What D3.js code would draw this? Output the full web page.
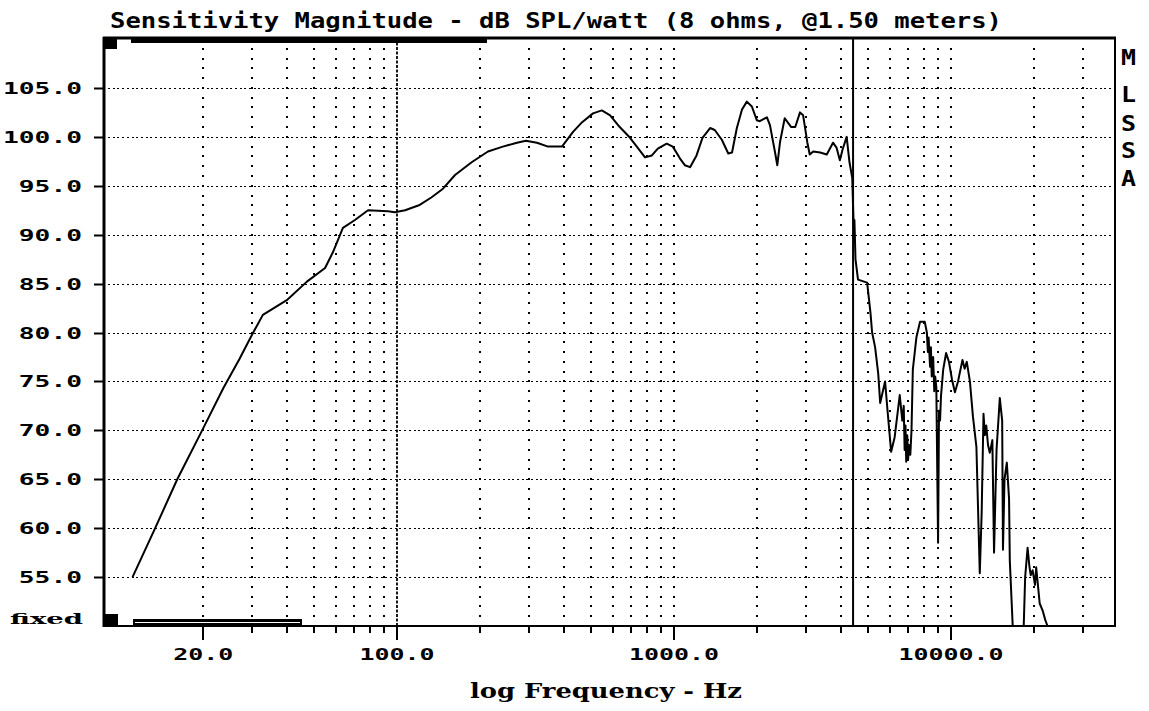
<!DOCTYPE html>
<html>
<head>
<meta charset="utf-8">
<script src="https://cdn.jsdelivr.net/npm/d3@7"></script>
<style>
  html, body { margin: 0; padding: 0; background: #fff; }
  svg { display: block; }
  .mono { font-family: "DejaVu Sans Mono", "Liberation Mono", monospace; font-weight: bold; fill: #000; }
  .serif { font-family: "DejaVu Serif", "Liberation Serif", serif; font-weight: bold; fill: #000; }
</style>
</head>
<body>
<script>
// ---------------- data ----------------
const freqHz = [11.1, 13.4, 16.1, 19.8, 23.6, 27.0, 30.0, 32.8, 40, 47.3, 55, 58.7, 63.8, 70.5, 78.6, 92.8, 98.3,
  107, 120, 133, 146.6, 162, 186, 213, 241, 271, 292, 320, 351, 394, 432, 466, 510, 549, 588, 637, 694, 734,
  786, 832, 874, 941, 990, 1050, 1094, 1143, 1206, 1267, 1350, 1403, 1488, 1570, 1620, 1686, 1760, 1832,
  1910, 1990, 2040, 2165, 2220, 2313, 2360, 2415, 2510, 2570, 2650, 2740, 2850, 2925, 3030, 3090, 3180,
  3370, 3560, 3750, 3860, 3970, 4060, 4200, 4300, 4400, 4440, 4460, 4480, 4520, 4616, 4980, 5120, 5190,
  5320, 5460, 5550, 5780, 5900, 6080, 6260, 6530, 6670, 6750, 6800, 6850, 6890, 6950, 7000, 7050, 7130, 7200, 7280, 7500,
  7730, 8040, 8180, 8250, 8300, 8400, 8460, 8520, 8620, 8700, 8770, 8850, 8980, 9050, 9130, 9200, 9370, 9600, 9830, 10080, 10330, 10600,
  11000, 11200, 11400, 11700, 12000, 12350, 12700, 12900, 13100, 13250, 13400, 13600, 13800, 14100, 14300, 14600, 15000,
  15300, 15400, 15600, 15900, 16200, 16300, 16700, 16800, 17800, 18300, 18520, 18900, 19200, 19400, 19700, 20100,
  20300, 20900, 21400, 21900, 22300, 22600];
const splDb = [55.0, 60.0, 65.0, 70.0, 74.3, 77.3, 79.8, 81.8, 83.3, 85.2, 86.6, 88.2, 90.7, 91.5, 92.5, 92.4, 92.3,
  92.5, 93.0, 93.8, 94.7, 96.1, 97.4, 98.5, 99.0, 99.4, 99.6, 99.4, 99.0, 99.0, 100.5, 101.5, 102.4, 102.7, 102.2, 101.0, 99.9, 99.0,
  97.9, 98.1, 98.8, 99.3, 99.0, 97.8, 97.1, 96.9, 98.1, 99.9, 100.9, 100.7, 99.7, 98.3, 98.4, 100.9, 102.8, 103.6,
  103.1, 101.7, 101.6, 102.0, 101.2, 98.5, 97.1, 99.5, 101.9, 101.5, 101.0, 101.0, 102.5, 102.2, 99.4, 98.2, 98.5,
  98.4, 98.2, 99.4, 98.9, 97.6, 98.7, 100.0, 97.4, 95.8, 92.0, 90.5, 91.5, 87.5, 85.4, 85.1, 82.0, 80.0,
  78.5, 75.8, 72.8, 75.0, 72.0, 67.8, 69.3, 73.6, 71.0, 72.5, 68.0, 70.5, 66.8, 69.5, 67.0, 68.5, 67.5, 70.0, 76.2, 79.5,
  81.1, 81.1, 80.0, 78.0, 79.5, 76.5, 78.5, 75.5, 77.5, 74.0, 75.5, 74.4, 58.5, 72.0, 71.0, 73.5, 76.2, 77.9, 77.0, 75.2, 73.9, 75.0,
  77.2, 76.3, 77.0, 75.0, 71.4, 68.3, 55.4, 61.5, 71.7, 69.5, 70.5, 68.5, 67.7, 69.0, 57.5, 68.0, 73.3,
  71.0, 57.8, 65.0, 66.7, 63.0, 56.7, 50.0, 46.0, 46.0, 50.0, 55.0, 58.0, 56.0, 55.2, 55.7, 54.2,
  56.0, 52.3, 51.6, 50.6, 50.0, 46.0];

const yTickValues = [105, 100, 95, 90, 85, 80, 75, 70, 65, 60, 55];
const yTickLabels = ["105.0", "100.0", "95.0", "90.0", "85.0", "80.0", "75.0", "70.0", "65.0", "60.0", "55.0"];
const xLabelHz = [20, 100, 1000, 10000];
const xTickLabels = ["20.0", "100.0", "1000.0", "10000.0"];
const gridHz = [20, 30, 40, 50, 60, 70, 80, 90, 200, 300, 400, 500, 600, 700, 800, 900,
  1000, 2000, 3000, 4000, 5000, 6000, 7000, 8000, 9000, 10000, 20000, 30000];
const markerHz = 100;
const cursorHz = 4430;
const titleText = "Sensitivity Magnitude - dB SPL/watt (8 ohms, @1.50 meters)";
const xTitle = "log Frequency - Hz";
const sideLetters = ["M", "L", "S", "S", "A"];

// ---------------- layout ----------------
const W = 1149, H = 711;
const L = 105, R = 1115, T = 38, B = 626;

const svg = d3.select("body").append("svg").attr("width", W).attr("height", H);

const x = d3.scaleLog().domain([8.83, 39080]).range([L, R]);
const y = d3.scaleLinear().domain([50, 110]).range([B, 39]);

svg.append("defs").append("clipPath").attr("id", "plotclip")
  .append("rect").attr("x", L).attr("y", T).attr("width", R - L).attr("height", B - T);

const grid = svg.append("g").attr("shape-rendering", "crispEdges");

// horizontal dotted gridlines
grid.selectAll("line.h").data(yTickValues).join("line")
  .attr("class", "h")
  .attr("x1", L + 3).attr("x2", R - 3)
  .attr("y1", d => Math.round(y(d)) + 0.5).attr("y2", d => Math.round(y(d)) + 0.5)
  .attr("stroke", "#000").attr("stroke-width", 1.6)
  .attr("stroke-dasharray", "2,2.7");

// vertical dotted gridlines (one dot per dB)
const dbSteps = d3.range(51, 110);
const dots = [];
gridHz.forEach(f => dbSteps.forEach(v => dots.push([f, v])));
grid.selectAll("rect.dot").data(dots).join("rect")
  .attr("class", "dot")
  .attr("x", d => Math.round(x(d[0])) - 1)
  .attr("y", d => Math.round(y(d[1])) - 1)
  .attr("width", 2).attr("height", 2)
  .attr("fill", "#000");

// 100 Hz marker (dash line)
svg.append("line")
  .attr("x1", x(markerHz)).attr("x2", x(markerHz))
  .attr("y1", T).attr("y2", B)
  .attr("stroke", "#000").attr("stroke-width", 1.8)
  .attr("stroke-dasharray", "3,1.5");

// cursor line
svg.append("line")
  .attr("x1", x(cursorHz)).attr("x2", x(cursorHz))
  .attr("y1", T).attr("y2", B)
  .attr("stroke", "#000").attr("stroke-width", 2);

// curve
const pts = freqHz.map((f, i) => [f, splDb[i]]);
svg.append("path")
  .datum(pts)
  .attr("clip-path", "url(#plotclip)")
  .attr("fill", "none").attr("stroke", "#000").attr("stroke-width", 2)
  .attr("stroke-linejoin", "round")
  .attr("d", d3.line().x(d => x(d[0])).y(d => y(d[1])));

// frame
svg.append("line").attr("x1", L - 1).attr("x2", L - 1).attr("y1", T - 1).attr("y2", B + 1)
  .attr("stroke", "#000").attr("stroke-width", 3);
svg.append("line").attr("x1", L - 2).attr("x2", R + 1).attr("y1", T).attr("y2", T)
  .attr("stroke", "#000").attr("stroke-width", 3);
svg.append("line").attr("x1", R).attr("x2", R).attr("y1", T).attr("y2", B + 1)
  .attr("stroke", "#000").attr("stroke-width", 2);
svg.append("line").attr("x1", L - 2).attr("x2", R + 1).attr("y1", B).attr("y2", B)
  .attr("stroke", "#000").attr("stroke-width", 2);

// scroll indicators
svg.append("rect").attr("x", L - 2).attr("y", T + 1).attr("width", 14).attr("height", 10).attr("fill", "#000");
svg.append("rect").attr("x", 131).attr("y", T + 1).attr("width", 356).attr("height", 4).attr("fill", "#000");
svg.append("rect").attr("x", L - 1).attr("y", B - 12).attr("width", 14).attr("height", 12).attr("fill", "#000");
svg.append("rect").attr("x", 133).attr("y", B - 7).attr("width", 169).attr("height", 7).attr("fill", "#000");
svg.append("line").attr("x1", 135).attr("x2", 300).attr("y1", B - 3.5).attr("y2", B - 3.5)
  .attr("stroke", "#fff").attr("stroke-width", 1);

// x ticks
const xt = svg.append("g").attr("stroke", "#000").attr("stroke-width", 2);
xt.selectAll("line.minor").data(gridHz.filter(f => !xLabelHz.includes(f))).join("line")
  .attr("x1", d => Math.round(x(d))).attr("x2", d => Math.round(x(d)))
  .attr("y1", B).attr("y2", B + 7);
xt.selectAll("line.major").data(xLabelHz).join("line")
  .attr("x1", d => Math.round(x(d))).attr("x2", d => Math.round(x(d)))
  .attr("y1", B).attr("y2", B + 14);

// x labels
svg.selectAll("text.xl").data(xLabelHz).join("text")
  .attr("class", "mono")
  .attr("x", d => x(d)).attr("y", 660)
  .attr("text-anchor", "middle")
  .attr("font-size", 16)
  .attr("textLength", (d, i) => xTickLabels[i].length * 15)
  .attr("lengthAdjust", "spacingAndGlyphs")
  .text((d, i) => xTickLabels[i]);

// y ticks and labels
svg.selectAll("line.yt").data(yTickValues).join("line")
  .attr("x1", 94).attr("x2", L - 1)
  .attr("y1", d => Math.round(y(d)) + 0.5).attr("y2", d => Math.round(y(d)) + 0.5)
  .attr("stroke", "#000").attr("stroke-width", 2);
svg.selectAll("text.yl").data(yTickValues).join("text")
  .attr("class", "mono")
  .attr("x", 82).attr("y", d => y(d) + 6)
  .attr("text-anchor", "end")
  .attr("font-size", 15)
  .attr("textLength", (d, i) => yTickLabels[i].length * 15.8)
  .attr("lengthAdjust", "spacingAndGlyphs")
  .text((d, i) => yTickLabels[i]);

svg.append("text").attr("class", "serif")
  .attr("x", 10).attr("y", 624).attr("font-size", 15)
  .attr("textLength", 73).attr("lengthAdjust", "spacingAndGlyphs")
  .text("fixed");

// title
svg.append("text").attr("class", "mono")
  .attr("x", 110).attr("y", 28).attr("font-size", 21)
  .attr("textLength", 892).attr("lengthAdjust", "spacingAndGlyphs")
  .text(titleText);

// x axis title
svg.append("text").attr("class", "serif")
  .attr("x", 470).attr("y", 698).attr("font-size", 20)
  .attr("textLength", 272).attr("lengthAdjust", "spacingAndGlyphs")
  .text(xTitle);

// side label
const sideY = [65, 102, 131, 158, 186];
svg.selectAll("text.side").data(sideLetters).join("text")
  .attr("class", "mono")
  .attr("x", 1121).attr("y", (d, i) => sideY[i])
  .attr("font-size", 22)
  .attr("textLength", 15).attr("lengthAdjust", "spacingAndGlyphs")
  .text(d => d);
</script>
</body>
</html>
